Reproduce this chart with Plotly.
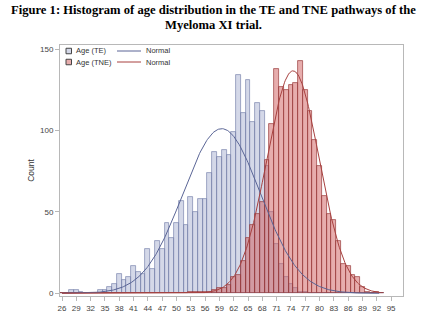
import numpy as np
import plotly.graph_objects as go

# ---- data ----
ages = list(range(26, 94))
te_counts = {
    28: 2, 29: 2, 30: 1, 34: 2, 35: 2, 36: 4, 37: 6, 38: 12, 39: 8, 40: 10,
    41: 17, 42: 13, 43: 12, 44: 27, 45: 15, 46: 32, 47: 27, 48: 43, 49: 34,
    50: 43, 51: 57, 52: 42, 53: 59, 54: 50, 55: 58, 56: 58, 57: 74, 58: 87,
    59: 84, 60: 88, 61: 85, 62: 99, 63: 134, 64: 111, 65: 131, 66: 105,
    67: 117, 68: 112, 69: 78, 70: 50, 71: 30, 72: 18, 73: 10, 74: 6, 75: 3,
    76: 1, 77: 1,
}
tne_counts = {
    53: 1, 54: 1, 55: 1, 56: 1, 57: 1, 58: 2, 59: 3, 60: 3, 61: 5, 62: 10,
    63: 11, 64: 20, 65: 34, 66: 42, 67: 49, 68: 56, 69: 82, 70: 104, 71: 138,
    72: 127, 73: 125, 74: 128, 75: 129, 76: 143, 77: 125, 78: 112, 79: 94,
    80: 78, 81: 60, 82: 49, 83: 45, 84: 32, 85: 18, 86: 17, 87: 11, 88: 10,
    89: 4, 90: 1, 92: 1,
}
te = [te_counts.get(a, 0) for a in ages]
tne = [tne_counts.get(a, 0) for a in ages]
x_ticks = list(range(26, 96, 3))
y_ticks = [0, 50, 100, 150]
title_lines = ["Figure 1: Histogram of age distribution in the TE and TNE pathways of the",
               "Myeloma XI trial."]

# ---- styles ----
BLUE_FILL = "rgba(111,126,179,0.30)"
BLUE_LINE = "rgba(120,130,170,0.85)"
RED_FILL = "rgba(208,91,91,0.50)"
RED_LINE = "rgba(150,55,55,0.85)"
BLUE_CURVE = "#5a6596"
RED_CURVE = "#a8413f"


def normal_curve(counts):
    a = np.array(ages, dtype=float)
    c = np.array(counts, dtype=float)
    n = c.sum()
    mu = (a * c).sum() / n
    sd = np.sqrt(((a - mu) ** 2 * c).sum() / (n - 1))
    xs = np.linspace(26, 92.5, 400)
    ys = n * np.exp(-0.5 * ((xs - mu) / sd) ** 2) / (sd * np.sqrt(2 * np.pi))
    return xs, ys


fig = go.Figure()
fig.add_trace(go.Bar(x=ages, y=te, width=1, marker=dict(color=BLUE_FILL, line=dict(color=BLUE_LINE, width=0.8)),
                     name="Age (TE)", showlegend=False))
fig.add_trace(go.Bar(x=ages, y=tne, width=1, marker=dict(color=RED_FILL, line=dict(color=RED_LINE, width=0.8)),
                     name="Age (TNE)", showlegend=False))
xs, ys = normal_curve(te)
fig.add_trace(go.Scatter(x=xs, y=ys, mode="lines", line=dict(color=BLUE_CURVE, width=1), showlegend=False))
xs, ys = normal_curve(tne)
fig.add_trace(go.Scatter(x=xs, y=ys, mode="lines", line=dict(color=RED_CURVE, width=1), showlegend=False))

W, H = 426, 331
L, R, T, B = 60, 23, 45, 35
pw, ph = W - L - R, H - T - B


def px(x):
    return (x - L) / pw


def py(y):
    return (H - B - y) / ph


LEG_FONT = dict(family="Liberation Sans, Arial", size=7.5, color="#333")
shapes = []
annotations = []
leg_rows = [
    (51.0, BLUE_FILL, BLUE_LINE, BLUE_CURVE, "Age (TE)"),
    (62.0, RED_FILL, RED_LINE, RED_CURVE, "Age (TNE)"),
]
for yy, fill, edge, curve, label in leg_rows:
    shapes.append(dict(type="rect", xref="paper", yref="paper", x0=px(66), x1=px(71.5), y0=py(yy + 2.75), y1=py(yy - 2.75),
                       fillcolor="white", line=dict(width=0), layer="above"))
    shapes.append(dict(type="rect", xref="paper", yref="paper", x0=px(66), x1=px(71.5), y0=py(yy + 2.75), y1=py(yy - 2.75),
                       fillcolor=fill, line=dict(color="#444", width=1), layer="above"))
    annotations.append(dict(xref="paper", yref="paper", x=px(73.5), y=py(yy), text=label, showarrow=False,
                            xanchor="left", yanchor="middle", font=LEG_FONT))
    shapes.append(dict(type="line", xref="paper", yref="paper", x0=px(117), x1=px(141), y0=py(yy), y1=py(yy),
                       line=dict(color=curve, width=1), layer="above"))
    annotations.append(dict(xref="paper", yref="paper", x=px(144), y=py(yy), text="Normal", showarrow=False,
                            xanchor="left", yanchor="middle", font=LEG_FONT))

for i, (line, yy) in enumerate(zip(title_lines, [10, 25])):
    annotations.append(dict(xref="paper", yref="paper", x=px(213), y=py(yy),
                            text="<b>" + line + "</b>", showarrow=False, xanchor="center", yanchor="middle",
                            font=dict(family="Liberation Serif, Times New Roman", size=12.6, color="#000")))

axis_common = dict(showgrid=False, zeroline=False, showline=True, linecolor="#b8b8b8", linewidth=1,
                   ticks="outside", ticklen=4, tickcolor="#b8b8b8", mirror=True,
                   tickfont=dict(family="Liberation Sans, Arial", size=8, color="#444"))

fig.update_layout(
    width=W, height=H, margin=dict(l=L, r=R, t=T, b=B),
    paper_bgcolor="white", plot_bgcolor="white",
    barmode="overlay", bargap=0,
    xaxis=dict(range=[25.58, 97.5], tickvals=x_ticks, ticktext=[str(v) for v in x_ticks], **axis_common),
    yaxis=dict(range=[-1.66, 152.6], tickvals=y_ticks, title=dict(text="Count", standoff=4,
               font=dict(family="Liberation Sans, Arial", size=8.5, color="#333")), **axis_common),
    shapes=shapes, annotations=annotations,
)
fig.write_html("out.html")
